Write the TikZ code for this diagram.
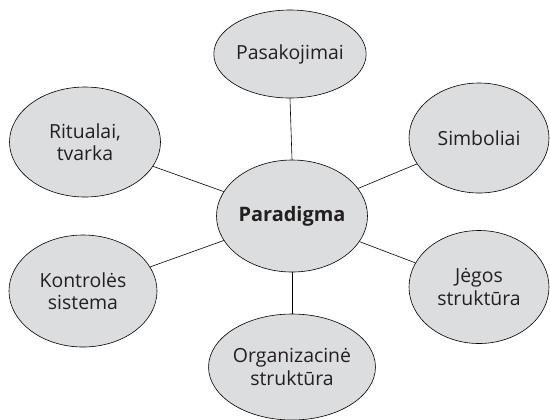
\documentclass[tikz,border=0pt]{standalone}
\usepackage{fontspec}
\setmainfont{Open Sans}
\usetikzlibrary{shapes.geometric}
\definecolor{bubblegray}{HTML}{DCDDDF}
\definecolor{inkgray}{HTML}{231F20}
\tikzset{
  bubble/.style={ellipse, draw=black, line width=0.6bp, fill=bubblegray, inner sep=0pt,
    align=center, font=\fontsize{19.5}{22.5}\selectfont, text=inkgray},
  link/.style={draw=black, line width=0.6bp}
}
\begin{document}
\begin{tikzpicture}[x=1bp,y=-1bp]
\useasboundingbox (0,0) rectangle (550,419);
\node[bubble, minimum width=150bp, minimum height=112bp, font=\fontsize{20}{22}\selectfont\bfseries] (c) at (292,216) {Paradigma};
\node[bubble, minimum width=144bp, minimum height=88bp] (p) at (290,54) {Pasakojimai};
\node[bubble, minimum width=140bp, minimum height=110bp] (s) at (479,138) {Simboliai};
\node[bubble, minimum width=140bp, minimum height=113bp] (j) at (479,287) {Jėgos\\struktūra};
\node[bubble, minimum width=151bp, minimum height=106bp] (o) at (292,367) {Organizacinė\\struktūra};
\node[bubble, minimum width=148bp, minimum height=112bp] (k) at (83,291) {Kontrolės\\sistema};
\node[bubble, minimum width=151bp, minimum height=110bp] (r) at (85,142) {Ritualai,\\tvarka};
\draw[link] (c.north) -- (p.south);
\draw[link] (c.south) -- (o.north);
\draw[link] (c) -- (r);
\draw[link] (c) -- (s);
\draw[link] (c) -- (j);
\draw[link] (c) -- (k);
\end{tikzpicture}
\end{document}
